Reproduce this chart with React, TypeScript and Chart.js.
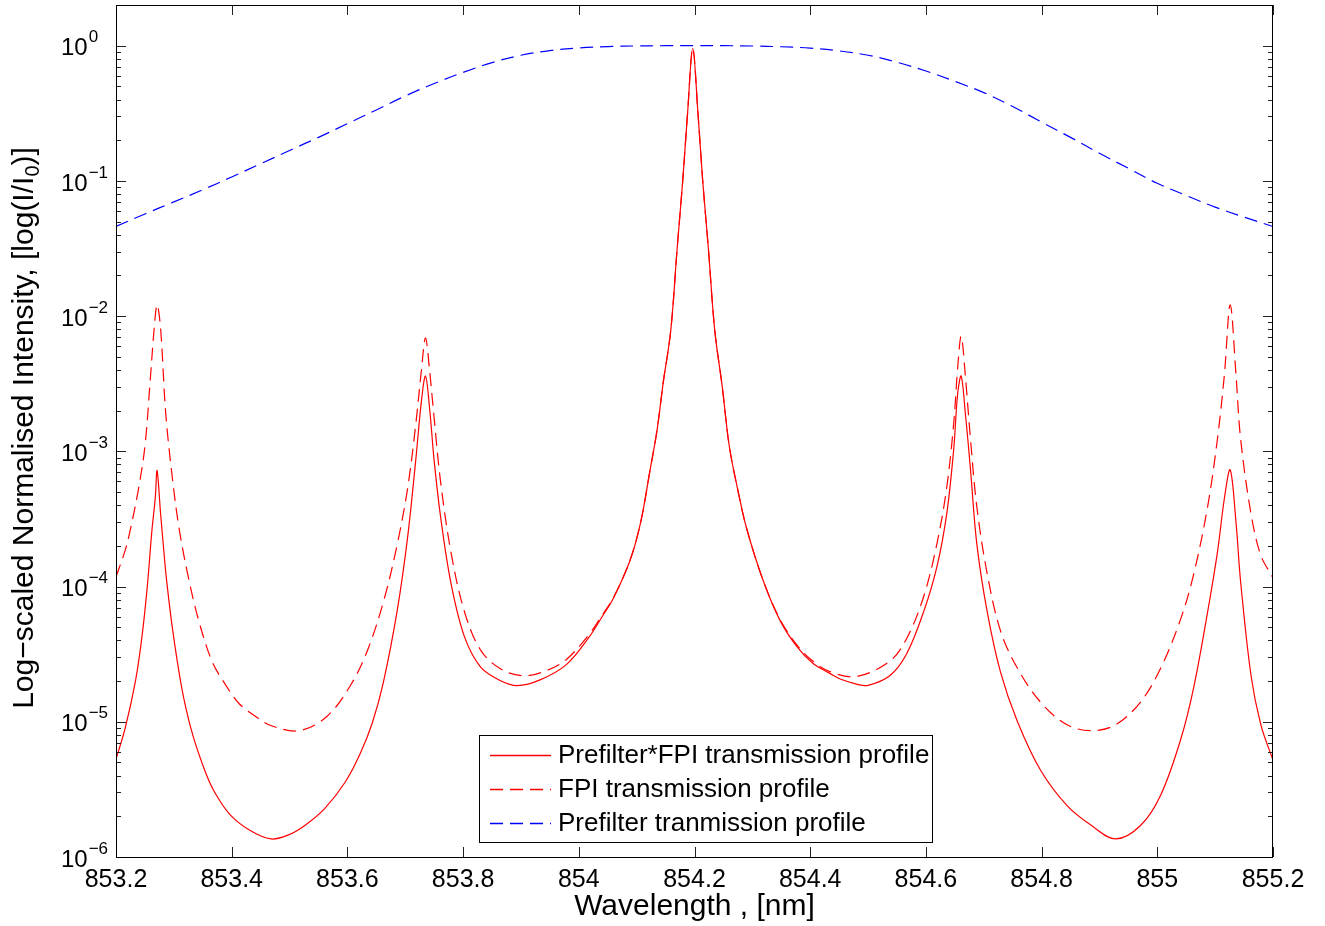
import React, { useEffect, useRef } from "react";
import { Chart, registerables } from "chart.js";

Chart.register(...registerables);

const FONT = "'Liberation Sans', Arial, Helvetica, sans-serif";

// ---- Data ----
const prefilterWl = [
  853.2, 853.25, 853.3, 853.35, 853.4, 853.45, 853.5, 853.55, 853.6, 853.65,
  853.7, 853.75, 853.8, 853.85, 853.9, 853.95, 854.0, 854.05, 854.1, 854.15,
  854.2, 854.25, 854.3, 854.35, 854.4, 854.45, 854.5, 854.55, 854.6, 854.65,
  854.7, 854.75, 854.8, 854.85, 854.9, 854.95, 855.0, 855.05, 855.1, 855.15, 855.2,
];
const prefilterVal = [
  0.046, 0.057, 0.07, 0.086, 0.107, 0.134, 0.168, 0.21, 0.265, 0.335,
  0.425, 0.525, 0.635, 0.75, 0.85, 0.92, 0.962, 0.985, 0.996, 1.0,
  1.0, 1.0, 0.995, 0.982, 0.96, 0.915, 0.85, 0.755, 0.65, 0.545,
  0.45, 0.355, 0.272, 0.21, 0.16, 0.124, 0.096, 0.078, 0.064, 0.054, 0.046,
];

const fpiWl = [
  853.2, 853.216, 853.2242, 853.2385, 853.2501, 853.2588, 853.2662, 853.271, 853.277, 853.286, 853.297,
  853.309, 853.326, 853.343, 853.366, 853.39, 853.413, 853.442, 853.47, 853.517, 853.565,
  853.606, 853.635, 853.663, 853.686, 853.704, 853.718, 853.728, 853.735, 853.742, 853.75,
  853.761, 853.779, 853.802, 853.83, 853.865, 853.905, 853.945, 853.979, 854.019, 854.04,
  854.06, 854.089, 854.107, 854.123, 854.135, 854.146, 854.159, 854.17, 854.1796, 854.188,
  854.197, 854.206, 854.2142, 854.224, 854.235, 854.248, 854.26, 854.274, 854.29,
  854.319, 854.348, 854.377, 854.405, 854.434, 854.48, 854.538, 854.567, 854.596, 854.619,
  854.636, 854.648, 854.655, 854.661, 854.668, 854.677, 854.688, 854.706, 854.729, 854.758,
  854.798, 854.844, 854.887, 854.928, 854.971, 855.006, 855.04, 855.063, 855.087, 855.104,
  855.116, 855.126, 855.136, 855.144, 855.162, 855.179, 855.2,
];
const fpiVal = [
  1.18e-4, 1.86e-4, 2.57e-4, 5.17e-4, 1.1e-3, 3.2e-3, 8.3e-3, 0.0121, 8.2e-3, 1.9e-3, 6.6e-4,
  2.7e-4, 1.12e-4, 5.6e-5, 2.8e-5, 1.86e-5, 1.36e-5, 1.09e-5, 9.3e-6, 8.6e-6, 1.1e-5,
  1.88e-5, 3.4e-5, 7.9e-5, 2.04e-4, 5.3e-4, 1.56e-3, 4.0e-3, 6.9e-3, 4.0e-3, 1.75e-3,
  6.0e-4, 1.8e-4, 6.6e-5, 3.4e-5, 2.46e-5, 2.19e-5, 2.4e-5, 2.9e-5, 4.5e-5, 6.1e-5,
  8.3e-5, 1.59e-4, 3.0e-4, 7.2e-4, 1.41e-3, 3.24e-3, 7.85e-3, 0.0316, 0.1, 0.316,
  0.957, 0.316, 0.1, 0.0316, 7.85e-3, 3.0e-3, 1.1e-3, 5.4e-4, 2.7e-4,
  1.1e-4, 5.7e-5, 3.7e-5, 2.8e-5, 2.35e-5, 2.16e-5, 2.82e-5, 4.15e-5, 8.4e-5, 2.07e-4,
  5.4e-4, 1.6e-3, 4.2e-3, 7.1e-3, 3.7e-3, 1.24e-3, 3.9e-4, 1.24e-4, 4.7e-5, 2.5e-5,
  1.4e-5, 9.5e-6, 8.6e-6, 9.5e-6, 1.4e-5, 2.5e-5, 5.7e-5, 1.24e-4, 3.9e-4, 1.24e-3,
  3.7e-3, 0.0121, 3.7e-3, 1.24e-3, 3.45e-4, 1.7e-4, 1.16e-4,
];

const productWl = [
  853.2, 853.216, 853.234, 853.245, 853.254, 853.262, 853.268, 853.271, 853.277, 853.283,
  853.287, 853.296, 853.305, 853.317, 853.333, 853.355, 853.371, 853.397, 853.432, 853.468,
  853.497, 853.527, 853.561, 853.596, 853.622, 853.643, 853.662, 853.686, 853.704, 853.718,
  853.728, 853.735, 853.742, 853.75, 853.761, 853.779, 853.802, 853.83, 853.865, 853.894,
  853.933, 853.979, 854.019, 854.04, 854.06, 854.089, 854.107, 854.123, 854.135, 854.146,
  854.159, 854.17, 854.1796, 854.188, 854.197, 854.206, 854.2142, 854.224, 854.235, 854.248,
  854.26, 854.274, 854.29, 854.319, 854.348, 854.377, 854.405, 854.434, 854.452, 854.48,
  854.5, 854.538, 854.567, 854.596, 854.619, 854.636, 854.648, 854.655, 854.661, 854.668,
  854.677, 854.688, 854.706, 854.729, 854.758, 854.798, 854.844, 854.887, 854.928, 854.971,
  855.006, 855.04, 855.063, 855.087, 855.104, 855.116, 855.126, 855.136, 855.144, 855.162,
  855.179, 855.2,
];
const productVal = [
  5.3e-6, 9.0e-6, 2.04e-5, 4.3e-5, 9.9e-5, 2.57e-4, 4.6e-4, 7.2e-4, 3.5e-4, 1.77e-4,
  1.16e-4, 5.5e-5, 2.97e-5, 1.5e-5, 7.9e-6, 4.2e-6, 2.99e-6, 2.06e-6, 1.57e-6, 1.36e-6,
  1.45e-6, 1.72e-6, 2.29e-6, 3.57e-6, 5.8e-6, 9.8e-6, 1.94e-5, 6.6e-5, 2.3e-4, 8.5e-4,
  2.36e-3, 3.6e-3, 2.1e-3, 8.5e-4, 3.3e-4, 1.06e-4, 4.3e-5, 2.55e-5, 2.01e-5, 1.85e-5,
  2.04e-5, 2.66e-5, 4.3e-5, 5.96e-5, 8.24e-5, 1.58e-4, 3.0e-4, 7.2e-4, 1.41e-3, 3.24e-3,
  7.85e-3, 0.0316, 0.1, 0.316, 0.957, 0.316, 0.1, 0.0316, 7.85e-3, 3.0e-3,
  1.1e-3, 5.4e-4, 2.7e-4, 1.1e-4, 5.6e-5, 3.6e-5, 2.7e-5, 2.28e-5, 2.07e-5, 1.9e-5,
  1.86e-5, 2.2e-5, 3.2e-5, 6.5e-5, 1.4e-4, 3.45e-4, 1.03e-3, 2.7e-3, 3.6e-3, 1.95e-3,
  7.4e-4, 2.07e-4, 6.5e-5, 2.33e-5, 1.01e-5, 4.4e-6, 2.4e-6, 1.7e-6, 1.36e-6, 1.71e-6,
  2.88e-6, 7.3e-6, 1.8e-5, 6.5e-5, 1.8e-4, 4.5e-4, 7.3e-4, 3.0e-4, 1.09e-4, 2.2e-5,
  9.5e-6, 5.2e-6,
];

const xTickValues = [853.2, 853.4, 853.6, 853.8, 854.0, 854.2, 854.4, 854.6, 854.8, 855.0, 855.2];
const yDecadeExponents = [0, -1, -2, -3, -4, -5, -6];
const legendLabels = [
  "Prefilter*FPI transmission profile",
  "FPI transmission profile",
  "Prefilter tranmission profile",
];
const xTitle = "Wavelength , [nm]";
const yTitleMain = "Log\u2212scaled Normalised Intensity, [log(I/I";
const yTitleSub = "0";
const yTitleEnd = ")]";

const RED = "#ff0000";
const BLUE = "#0000ff";
const DASH = [13, 7];

const toPoints = (xs: number[], ys: number[]) => xs.map((x, i) => ({ x, y: ys[i] }));

const framePlugin = {
  id: "matlabFrame",
  afterDatasetsDraw(chart: any) {
    const { ctx, chartArea: a, scales } = chart;
    const sx = scales.x;
    const sy = scales.y;
    ctx.save();
    ctx.lineWidth = 1;
    ctx.setLineDash([]);
    const seg = (x1: number, y1: number, x2: number, y2: number, color: string) => {
      ctx.beginPath();
      ctx.strokeStyle = color;
      ctx.moveTo(x1, y1);
      ctx.lineTo(x2, y2);
      ctx.stroke();
    };
    // x ticks (inward, bottom and top)
    for (const v of xTickValues) {
      const px = Math.round(sx.getPixelForValue(v)) + 0.5;
      seg(px, a.bottom, px, a.bottom - 10, "#222");
      seg(px, a.top, px, a.top + 10, "#222");
    }
    // y ticks (log major + minor)
    for (let e = -6; e <= 0; e++) {
      for (let m = 1; m <= 9; m++) {
        const v = m * Math.pow(10, e);
        if (v > 1.99) continue;
        const py = Math.round(sy.getPixelForValue(v)) + 0.5;
        const len = m === 1 ? 10 : 5;
        seg(a.left, py, a.left + len, py, "#222");
        seg(a.right, py, a.right - len, py, "#222");
      }
    }
    // box
    ctx.strokeStyle = "#000";
    ctx.strokeRect(a.left + 0.5, a.top + 0.5, a.right - a.left - 1, a.bottom - a.top);

    // y tick labels 10^e
    ctx.fillStyle = "#000";
    ctx.textBaseline = "middle";
    ctx.textAlign = "left";
    for (const e of yDecadeExponents) {
      const py = sy.getPixelForValue(Math.pow(10, e));
      ctx.font = `24px ${FONT}`;
      ctx.fillText("10", 61, py + 3);
      const w = ctx.measureText("10").width;
      ctx.font = `17px ${FONT}`;
      ctx.fillText(e === 0 ? "0" : "\u2212" + String(-e), 61 + w + 1, py - 8);
    }

    // axis titles
    ctx.font = `30px ${FONT}`;
    ctx.textAlign = "center";
    ctx.fillText(xTitle, (a.left + a.right) / 2, 907);

    ctx.save();
    ctx.translate(25, 428);
    ctx.rotate(-Math.PI / 2);
    ctx.font = `30px ${FONT}`;
    const w1 = ctx.measureText(yTitleMain).width;
    const w3 = ctx.measureText(yTitleEnd).width;
    ctx.font = `20px ${FONT}`;
    const w2 = ctx.measureText(yTitleSub).width;
    const total = w1 + w2 + w3;
    const x0 = -total / 2;
    ctx.textAlign = "left";
    ctx.font = `30px ${FONT}`;
    ctx.fillText(yTitleMain, x0, 0);
    ctx.font = `20px ${FONT}`;
    ctx.fillText(yTitleSub, x0 + w1, 8);
    ctx.font = `30px ${FONT}`;
    ctx.fillText(yTitleEnd, x0 + w1 + w2, 0);
    ctx.restore();

    // legend
    const lx = 479.5, ly = 735.5, lw = 453, lh = 107;
    ctx.fillStyle = "#fff";
    ctx.fillRect(lx, ly, lw, lh);
    ctx.strokeStyle = "#000";
    ctx.lineWidth = 1;
    ctx.strokeRect(lx, ly, lw, lh);
    const colors = [RED, RED, BLUE];
    const dashes = [[], DASH, DASH];
    const rows = [755, 789, 823];
    for (let i = 0; i < legendLabels.length; i++) {
      ctx.save();
      ctx.lineWidth = 1.3;
      ctx.setLineDash(dashes[i]);
      ctx.beginPath();
      ctx.moveTo(490, rows[i] + 0.5);
      ctx.lineTo(551, rows[i] + 0.5);
      ctx.strokeStyle = colors[i];
      ctx.stroke();
      ctx.restore();
      ctx.fillStyle = "#000";
      ctx.font = `26px ${FONT}`;
      ctx.textAlign = "left";
      ctx.textBaseline = "middle";
      ctx.fillText(legendLabels[i], 558, rows[i] + 1);
    }
    ctx.restore();
  },
};

export default function App() {
  const ref = useRef<HTMLCanvasElement | null>(null);
  useEffect(() => {
    document.body.style.margin = "0";
    const canvas = ref.current;
    if (!canvas) return;
    const common = { pointRadius: 0, borderWidth: 1.2, tension: 0.35, fill: false };
    const chart = new Chart(canvas, {
      type: "line",
      data: {
        datasets: [
          { ...common, label: legendLabels[0], data: toPoints(productWl, productVal), borderColor: RED },
          { ...common, label: legendLabels[1], data: toPoints(fpiWl, fpiVal), borderColor: RED, borderDash: DASH },
          { ...common, label: legendLabels[2], data: toPoints(prefilterWl, prefilterVal), borderColor: BLUE, borderDash: DASH },
        ],
      },
      options: {
        animation: false,
        responsive: false,
        maintainAspectRatio: false,
        devicePixelRatio: 1,
        layout: { padding: { left: 0, right: 52, top: 5, bottom: 0 } },
        plugins: { legend: { display: false }, tooltip: { enabled: false } },
        scales: {
          x: {
            type: "linear",
            min: 853.2,
            max: 855.2,
            grid: { display: false },
            border: { display: false },
            afterBuildTicks: (s: any) => {
              s.ticks = xTickValues.map((v) => ({ value: v }));
            },
            afterFit: (s: any) => {
              s.height = 69;
            },
            ticks: {
              autoSkip: false,
              maxRotation: 0,
              padding: 0,
              color: "#000",
              font: { family: FONT, size: 25 },
              callback: (v: any) => String(+Number(v).toFixed(1)),
            },
          },
          y: {
            type: "logarithmic",
            min: 1e-6,
            max: 2,
            grid: { display: false },
            border: { display: false },
            ticks: { display: false },
            afterFit: (s: any) => {
              s.width = 116;
            },
          },
        },
      },
      plugins: [framePlugin],
    } as any);
    return () => chart.destroy();
  }, []);
  return (
    <div style={{ position: "absolute", left: 0, top: 0, width: 1325, height: 926, background: "#fff" }}>
      <canvas ref={ref} width={1325} height={926} style={{ display: "block" }} />
    </div>
  );
}
